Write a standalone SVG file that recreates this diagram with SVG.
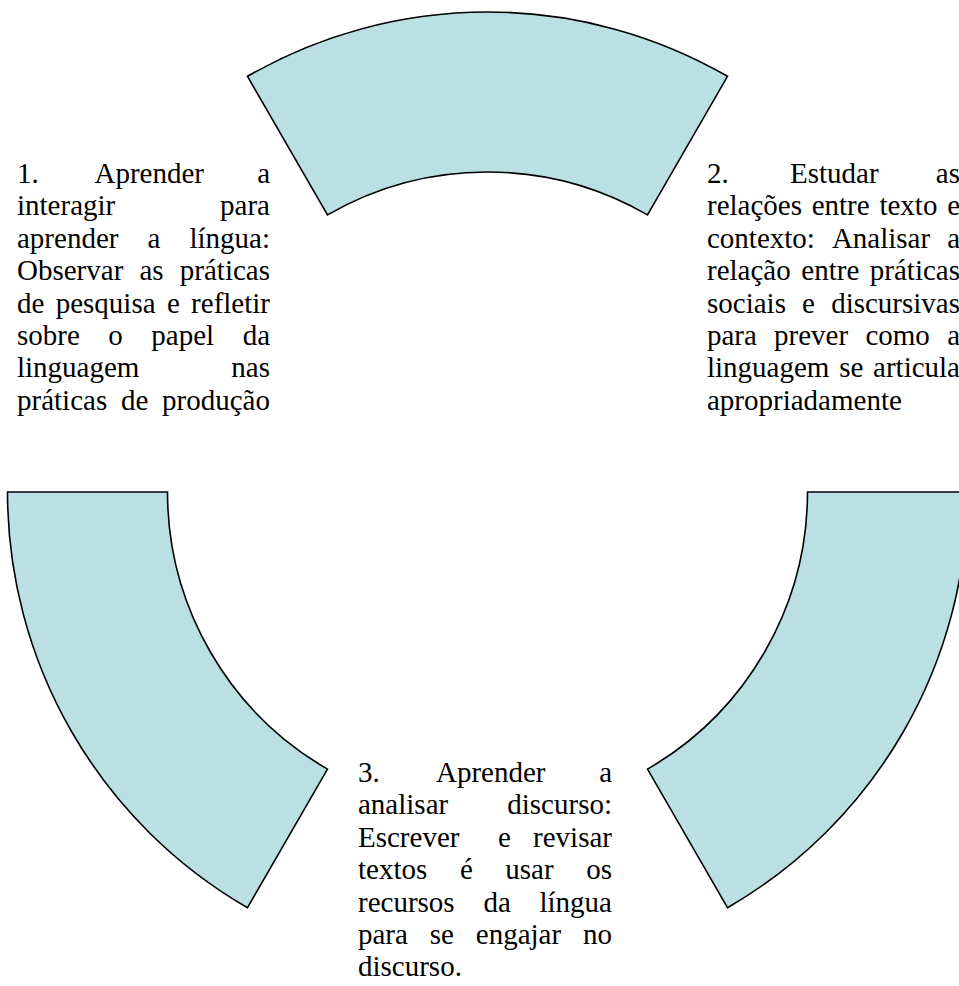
<svg xmlns="http://www.w3.org/2000/svg" width="959" height="986" viewBox="0 0 959 986">
<style>
.arc{fill:#BBE0E3;stroke:#000;stroke-width:1.6;stroke-linejoin:miter}
.t{font-family:"Liberation Serif","Times New Roman",serif;font-size:29px;fill:#000}
.e{text-anchor:end}
</style>
<rect width="959" height="986" fill="#fff"/>
<g id="arc-top"><path class="arc" d="M 247.5 76.3 A 480 480 0 0 1 727.5 76.3 L 647.5 214.9 A 320 320 0 0 0 327.5 214.9 Z"/></g>
<g id="arc-left"><path class="arc" d="M 7.5 492 L 167.5 492 A 320 320 0 0 0 327.5 769.1 L 247.5 907.7 A 480 480 0 0 1 7.5 492 Z"/></g>
<g id="arc-right"><path class="arc" d="M 807.5 492 L 967.5 492 A 480 480 0 0 1 727.5 907.7 L 647.5 769.1 A 320 320 0 0 0 807.5 492 Z"/></g>
<g id="connectors"></g>
<g id="text1" class="t">
<text y="183"><tspan x="17">1.</tspan><tspan x="94.5">Aprender</tspan><tspan x="270" class="e">a</tspan></text>
<text y="215.4"><tspan x="17">interagir</tspan><tspan x="270" class="e">para</tspan></text>
<text y="247.8"><tspan x="17">aprender</tspan><tspan x="147.5">a</tspan><tspan x="270" class="e">língua:</tspan></text>
<text y="280.2"><tspan x="17">Observar</tspan><tspan x="139.5">as</tspan><tspan x="270" class="e">práticas</tspan></text>
<text y="312.6"><tspan x="17">de</tspan><tspan x="55.7">pesquisa</tspan><tspan x="166.9">e</tspan><tspan x="270" class="e">refletir</tspan></text>
<text y="345"><tspan x="17">sobre</tspan><tspan x="108.3">o</tspan><tspan x="151.3">papel</tspan><tspan x="270" class="e">da</tspan></text>
<text y="377.4"><tspan x="17">linguagem</tspan><tspan x="270" class="e">nas</tspan></text>
<text y="409.8"><tspan x="17">práticas</tspan><tspan x="121">de</tspan><tspan x="270" class="e">produção</tspan></text>
</g>
<g id="text2" class="t">
<text y="183"><tspan x="707">2.</tspan><tspan x="790">Estudar</tspan><tspan x="960" class="e">as</tspan></text>
<text y="215.4"><tspan x="707">relações</tspan><tspan x="811.7">entre</tspan><tspan x="879.4">texto</tspan><tspan x="960" class="e">e</tspan></text>
<text y="247.8"><tspan x="707">contexto:</tspan><tspan x="831.9">Analisar</tspan><tspan x="960" class="e">a</tspan></text>
<text y="280.2"><tspan x="707">relação</tspan><tspan x="801.3">entre</tspan><tspan x="960" class="e">práticas</tspan></text>
<text y="312.6"><tspan x="707">sociais</tspan><tspan x="802.1">e</tspan><tspan x="960" class="e">discursivas</tspan></text>
<text y="345"><tspan x="707">para</tspan><tspan x="774.1">prever</tspan><tspan x="865.4">como</tspan><tspan x="960" class="e">a</tspan></text>
<text y="377.4"><tspan x="707">linguagem</tspan><tspan x="839.2">se</tspan><tspan x="960" class="e">articula</tspan></text>
<text y="409.8" x="707">apropriadamente</text>
</g>
<g id="text3" class="t">
<text y="782"><tspan x="358">3.</tspan><tspan x="436">Aprender</tspan><tspan x="612" class="e">a</tspan></text>
<text y="814.4"><tspan x="358">analisar</tspan><tspan x="612" class="e">discurso:</tspan></text>
<text y="846.8"><tspan x="358">Escrever</tspan><tspan x="498">e</tspan><tspan x="612" class="e">revisar</tspan></text>
<text y="879.2"><tspan x="358">textos</tspan><tspan x="459.9">é</tspan><tspan x="505.3">usar</tspan><tspan x="612" class="e">os</tspan></text>
<text y="911.6"><tspan x="358">recursos</tspan><tspan x="483.4">da</tspan><tspan x="612" class="e">língua</tspan></text>
<text y="944"><tspan x="358">para</tspan><tspan x="429.8">se</tspan><tspan x="475.8">engajar</tspan><tspan x="612" class="e">no</tspan></text>
<text y="976.4" x="358">discurso.</text>
</g>
</svg>
